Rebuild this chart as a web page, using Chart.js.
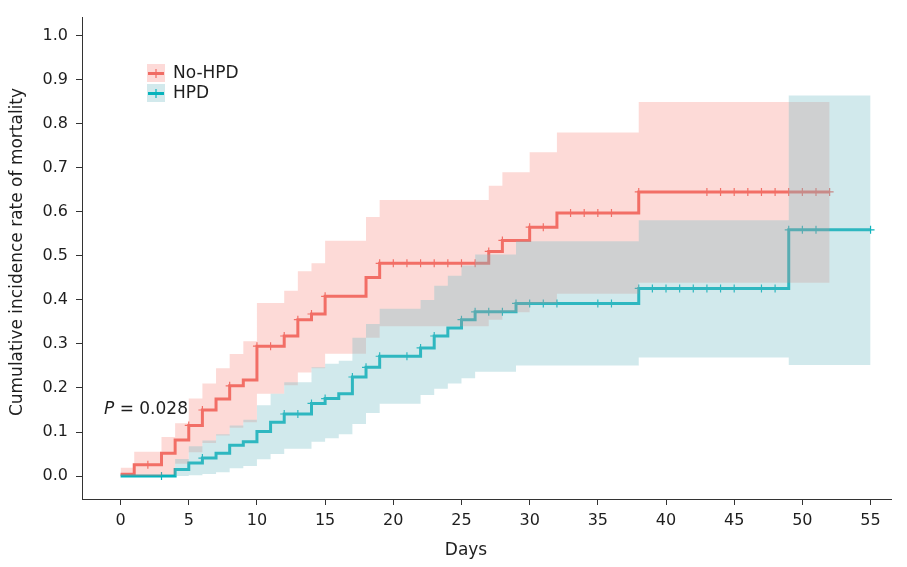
<!DOCTYPE html>
<html><head><meta charset="utf-8">
<script src="https://cdn.jsdelivr.net/npm/chart.js@4.4.1/dist/chart.umd.min.js"></script>
<style>html,body{margin:0;padding:0;background:#fff}</style>
</head><body>
<canvas id="c" width="907" height="567"></canvas>
<script>
// ---------- data ----------
const seriesNames = ['No-HPD', 'HPD'];

const noHpdDays  = [0, 1, 3, 4, 5, 6, 7, 8, 9, 10, 12, 13, 14, 15, 18, 19, 27, 28, 30, 32, 38, 52];
const noHpdCIF   = [0.004, 0.026, 0.052, 0.082, 0.115, 0.150, 0.175, 0.205, 0.218, 0.295, 0.318, 0.355, 0.368, 0.408, 0.451, 0.483, 0.510, 0.535, 0.565, 0.597, 0.645, 0.645];
const noHpdUpper = [0.019, 0.055, 0.089, 0.120, 0.176, 0.210, 0.245, 0.277, 0.306, 0.393, 0.421, 0.465, 0.483, 0.534, 0.588, 0.627, 0.659, 0.690, 0.735, 0.780, 0.849, 0.849];
const noHpdLower = [0, 0, 0.003, 0.028, 0.054, 0.075, 0.092, 0.110, 0.122, 0.187, 0.206, 0.235, 0.245, 0.278, 0.314, 0.340, 0.355, 0.372, 0.392, 0.414, 0.439, 0.439];
const noHpdCensor = [2, 5, 6, 8, 10, 11, 12, 13, 14, 15, 19, 20, 21, 22, 23, 24, 25, 26, 27, 28, 30, 31, 33, 34, 35, 36, 38, 43, 44, 45, 46, 47, 48, 49, 50, 51, 52];

const hpdDays  = [0, 4, 5, 6, 7, 8, 9, 10, 11, 12, 14, 15, 16, 17, 18, 19, 22, 23, 24, 25, 26, 29, 38, 49, 55];
const hpdCIF   = [0, 0.015, 0.030, 0.041, 0.052, 0.070, 0.078, 0.101, 0.122, 0.141, 0.165, 0.176, 0.187, 0.225, 0.247, 0.272, 0.291, 0.318, 0.336, 0.355, 0.373, 0.392, 0.426, 0.559, 0.559];
const hpdUpper = [0, 0.039, 0.068, 0.081, 0.095, 0.115, 0.128, 0.161, 0.187, 0.213, 0.247, 0.255, 0.262, 0.314, 0.345, 0.380, 0.400, 0.432, 0.455, 0.478, 0.503, 0.533, 0.581, 0.864, 0.864];
const hpdLower = [0, 0, 0.002, 0.005, 0.009, 0.018, 0.023, 0.038, 0.050, 0.062, 0.078, 0.086, 0.095, 0.118, 0.143, 0.164, 0.184, 0.198, 0.210, 0.222, 0.237, 0.251, 0.269, 0.252, 0.252];
const hpdCensor = [3, 6, 12, 13, 14, 15, 17, 18, 19, 21, 22, 23, 25, 26, 27, 28, 29, 30, 31, 32, 35, 36, 38, 39, 40, 41, 42, 43, 44, 45, 47, 48, 49, 50, 51, 55];

const xTickValues = [0, 5, 10, 15, 20, 25, 30, 35, 40, 45, 50, 55];
const yTickValues = [0, 0.1, 0.2, 0.3, 0.4, 0.5, 0.6, 0.7, 0.8, 0.9, 1.0];
const xTitle = 'Days';
const yTitle = 'Cumulative incidence rate of mortality';
const pLabel = 'P';
const pValueText = ' = 0.028';

// ---------- helpers ----------
function stepValue(days, vals, t) {
  let v = vals[0];
  for (let i = 0; i < days.length; i++) if (days[i] <= t) v = vals[i];
  return v;
}
const pts = (days, vals) => days.map((d, i) => ({ x: d, y: vals[i] }));
const censorPts = (days, vals, cens) => cens.map(t => ({ x: t, y: stepValue(days, vals, t) }));

const RED = '#F06C64';
const TEAL = '#06B3BC';
const RED_FILL = 'rgba(248,118,109,0.27)';
const TEAL_FILL = 'rgba(124,192,201,0.35)';
const FONT = '"DejaVu Sans", Verdana, sans-serif';
const TXT = '#1e1e1e';

const bandBase = { stepped: true, borderWidth: 0, pointRadius: 0, pointHoverRadius: 0 };
const lineBase = { stepped: true, borderWidth: 3, pointRadius: 0, pointHoverRadius: 0, fill: false };
const censBase = { showLine: false, pointStyle: 'cross', pointRadius: 4, pointBorderWidth: 1.2, fill: false };

const annot = {
  id: 'annot',
  afterDraw(chart) {
    const ctx = chart.ctx;
    ctx.save();
    // legend
    const keys = [
      { y: 64, fill: '#FDDAD8', col: RED, name: seriesNames[0] },
      { y: 84, fill: '#D2E9EC', col: TEAL, name: seriesNames[1] }
    ];
    keys.forEach(k => {
      ctx.fillStyle = k.fill;
      ctx.fillRect(147, k.y, 18, 18);
      ctx.strokeStyle = k.col;
      ctx.lineWidth = 3;
      ctx.beginPath(); ctx.moveTo(148, k.y + 9.5); ctx.lineTo(164, k.y + 9.5); ctx.stroke();
      ctx.lineWidth = 1.2;
      ctx.beginPath(); ctx.moveTo(156, k.y + 5); ctx.lineTo(156, k.y + 14); ctx.stroke();
      ctx.fillStyle = TXT;
      ctx.font = '17px ' + FONT;
      ctx.textBaseline = 'middle';
      ctx.textAlign = 'left';
      ctx.fillText(k.name, 173, k.y + 10);
    });
    // P value
    ctx.font = 'italic 17px ' + FONT;
    ctx.textBaseline = 'middle';
    ctx.fillText(pLabel, 104, 410);
    const pw = ctx.measureText(pLabel).width;
    ctx.font = '17px ' + FONT;
    ctx.fillText(pValueText, 104 + pw, 410);
    // axis titles
    ctx.textAlign = 'center';
    ctx.fillText(xTitle, 466, 551);
    ctx.translate(18, 252);
    ctx.rotate(-Math.PI / 2);
    ctx.fillText(yTitle, 0, 0);
    ctx.restore();
  }
};

new Chart(document.getElementById('c'), {
  type: 'line',
  data: {
    datasets: [
      Object.assign({ label: 'HPD upper', data: pts(hpdDays, hpdUpper), fill: { target: 1 }, backgroundColor: TEAL_FILL, borderColor: 'rgba(0,0,0,0)', order: 0 }, bandBase),
      Object.assign({ label: 'HPD lower', data: pts(hpdDays, hpdLower), fill: false, borderColor: 'rgba(0,0,0,0)', order: 0 }, bandBase),
      Object.assign({ label: 'No-HPD upper', data: pts(noHpdDays, noHpdUpper), fill: { target: 3 }, backgroundColor: RED_FILL, borderColor: 'rgba(0,0,0,0)', order: 1 }, bandBase),
      Object.assign({ label: 'No-HPD lower', data: pts(noHpdDays, noHpdLower), fill: false, borderColor: 'rgba(0,0,0,0)', order: 1 }, bandBase),
      Object.assign({ label: 'HPD censored', data: censorPts(hpdDays, hpdCIF, hpdCensor), borderColor: TEAL, pointBorderColor: TEAL, order: 2 }, censBase),
      Object.assign({ label: seriesNames[1], data: pts(hpdDays, hpdCIF), borderColor: TEAL, order: 3 }, lineBase),
      Object.assign({ label: 'No-HPD censored', data: censorPts(noHpdDays, noHpdCIF, noHpdCensor), borderColor: RED, pointBorderColor: RED, order: 4 }, censBase),
      Object.assign({ label: seriesNames[0], data: pts(noHpdDays, noHpdCIF), borderColor: RED, order: 5 }, lineBase)
    ]
  },
  options: {
    responsive: false,
    animation: false,
    devicePixelRatio: 1,
    layout: { padding: { top: 9, right: 16, left: 0, bottom: 0 } },
    plugins: { legend: { display: false }, tooltip: { enabled: false } },
    scales: {
      x: {
        type: 'linear', min: -2.83, max: 56.5,
        afterBuildTicks: s => { s.ticks = xTickValues.map(v => ({ value: v })); },
        afterFit: s => { s.height = 68; },
        grid: { display: true, drawOnChartArea: false, drawTicks: true, tickLength: 6, color: '#333' },
        border: { display: true, color: '#333', width: 1 },
        ticks: { font: { family: FONT, size: 16 }, color: TXT, padding: 6, maxRotation: 0, callback: v => String(v) }
      },
      y: {
        type: 'linear', min: -0.052, max: 1.0408,
        afterBuildTicks: s => { s.ticks = yTickValues.map(v => ({ value: v })); },
        afterFit: s => { s.width = 82; },
        grid: { display: true, drawOnChartArea: false, drawTicks: true, tickLength: 6, color: '#333' },
        border: { display: true, color: '#333', width: 1 },
        ticks: { font: { family: FONT, size: 16 }, color: TXT, padding: 8, callback: v => Number(v).toFixed(1) }
      }
    }
  },
  plugins: [annot]
});
</script>
</body></html>
